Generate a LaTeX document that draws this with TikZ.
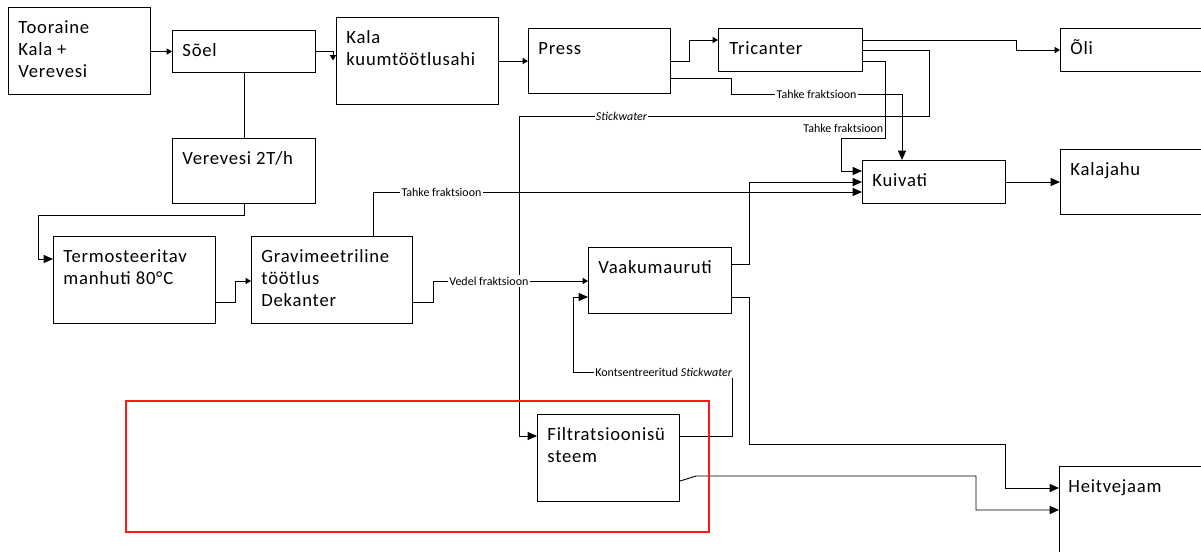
\documentclass[tikz,border=0pt]{standalone}
\usepackage{fontspec}
\setmainfont{Carlito}
\newfontfamily\kirjad[LetterSpace=4]{Carlito}
\usetikzlibrary{arrows.meta,calc}

\begin{document}
\begin{tikzpicture}[
    x=0.75pt, y=-0.75pt,
    line width=0.7pt,
    >={Triangle[length=4pt,width=4.5pt]},
    suur/.style = {-{Triangle[length=7pt,width=6pt]}},
    kast/.style = {
      draw,
      line width = 0.8pt,
      rectangle,
      anchor = north west,
      inner sep = 0pt
    },
    tekst/.style = {
      anchor = base west,
      align = left,
      inner sep = 0pt,
      font = \kirjad\fontsize{14}{16.5}\selectfont
    },
    silt/.style = {
      fill = white,
      inner sep = 1pt,
      font = \fontsize{9}{10}\selectfont
    }
  ]
  \useasboundingbox (0,0) rectangle (1201,551);

  % kastid
  \node[kast, minimum width=106.5pt, minimum height=65.25pt] (toor) at (8,7) {};
  \node[kast, minimum width=107.25pt, minimum height=31.5pt] (soel) at (172,30) {};
  \node[kast, minimum width=121.5pt, minimum height=65.25pt] (kala) at (336,17) {};
  \node[kast, minimum width=106.5pt, minimum height=48.75pt] (press) at (528,28) {};
  \node[kast, minimum width=108pt, minimum height=32.25pt] (tric) at (718,28) {};
  \node[kast, minimum width=115pt, minimum height=32.25pt] (oli) at (1060,28) {};
  \node[kast, minimum width=107.25pt, minimum height=48.75pt] (vere) at (172,138) {};
  \node[kast, minimum width=121.5pt, minimum height=65.25pt] (termo) at (53,236) {};
  \node[kast, minimum width=120.75pt, minimum height=65.25pt] (grav) at (251,236) {};
  \node[kast, minimum width=107.25pt, minimum height=32.25pt] (kuiv) at (862,160) {};
  \node[kast, minimum width=115pt, minimum height=48.75pt] (kjahu) at (1060,149) {};
  \node[kast, minimum width=107.25pt, minimum height=49.5pt] (vaak) at (588,247) {};
  \node[kast, minimum width=106.5pt, minimum height=65.25pt] (filt) at (537,414) {};
  \node[kast, minimum width=115pt, minimum height=75pt] (heit) at (1059,466) {};

  % tekstid (base = viimase rea alus)
  \node[tekst] (toortxt) at ($(toor.north west)+(10,70)$) {Tooraine\\Kala +\\Verevesi};
  \node[tekst] (soeltxt) at ($(soel.north west)+(10,26)$) {Sõel};
  \node[tekst] (kalatxt) at ($(kala.north west)+(10,48)$) {Kala\\kuumtöötlusahi};
  \node[tekst] (presstxt) at ($(press.north west)+(10,26)$) {Press};
  \node[tekst] (trictxt) at ($(tric.north west)+(11,26)$) {Tricanter};
  \node[tekst] (olitxt) at ($(oli.north west)+(10,26)$) {Õli};
  \node[tekst] (veretxt) at ($(vere.north west)+(10,26)$) {Verevesi 2T/h};
  \node[tekst] (termotxt) at ($(termo.north west)+(10,48)$) {Termosteeritav\\manhuti 80°C};
  \node[tekst] (gravtxt) at ($(grav.north west)+(10,70)$) {Gravimeetriline\\töötlus\\Dekanter};
  \node[tekst] (kuivtxt) at ($(kuiv.north west)+(10,26)$) {Kuivati};
  \node[tekst] (kjahutxt) at ($(kjahu.north west)+(10,26)$) {Kalajahu};
  \node[tekst] (vaaktxt) at ($(vaak.north west)+(10,26)$) {Vaakumauruti};
  \node[tekst] (filttxt) at ($(filt.north west)+(10,48)$) {Filtratsioonisü\\steem};
  \node[tekst] (heittxt) at ($(heit.north west)+(9,26)$) {Heitvejaam};

  % ühendused
  \draw[->] (toor.east |- soel.west) -- (soel.west);
  \draw[->] (soel.east) -- ($(kala.west |- soel.east)+(-3,0)$) -- ++(0,9);
  \draw (soel.south) -- (vere.north);
  \draw[suur] (vere.south) -- ++(0,11) -| ($(termo.north west)+(-15,23)$) -- ($(termo.north west)+(0,23)$);
  \draw[->] ($(termo.north east)+(0,66)$) -- ++(19,0) |- ($(grav.north west)+(0,45)$);
  \draw[->] (kala.east) -- (press.west);
  \draw[->] (press.east) -- ++(18,0) |- ($(tric.north west)+(0,12)$);
  \draw[suur] ($(press.north east)+(0,50)$) -- ++(60,0) -- ++(0,16)
    -- node[silt] {Tahke fraktsioon} ($(kuiv.north west)+(40,-66)$) -- ($(kuiv.north west)+(40,0)$);

  \draw[->] ($(tric.north east)+(0,12)$) -- ++(153,0) |- (oli.west);
  \draw[suur] ($(tric.north east)+(0,22)$) -- ++(66,0) -- ++(0,66)
    -| node[silt, pos=0.375] {\textit{Stickwater}} ($(filt.north west)+(-18,22)$) -- ($(filt.north west)+(0,22)$);
  \draw[suur] ($(tric.north east)+(0,33)$) -- ++(22,0)
    -- node[silt, anchor=east, pos=0.88, fill=none] {Tahke fraktsioon} ++(0,77)
    -- ++(-44,0) |- ($(kuiv.north west)+(0,11)$);

  \draw[suur] ($(vaak.north east)+(0,17)$) -- ++(17,0) |- (kuiv.west);
  \draw[suur] ($(grav.north west)+(122,0)$) |- node[silt, pos=0.57] {Tahke fraktsioon} ($(kuiv.north west)+(0,32)$);
  \draw[suur] (kuiv.east) -- (kuiv.east -| kjahu.west);

  \draw[->] ($(grav.north east)+(0,66)$) -- ++(20,0) |- node[silt, pos=0.68] {Vedel fraktsioon} ($(vaak.north west)+(0,34)$);
  \draw[suur] ($(filt.north east)+(0,22)$) -- ++(52,0) -- ++(0,-64)
    -- node[silt, pos=0.43] {Kontsentreeritud \textit{Stickwater}} ++(-159,0) |- ($(vaak.north west)+(0,50)$);

  \draw[suur] ($(vaak.north east)+(0,50)$) -- ++(17,0) -- ++(0,147) -| ($(heit.north west)+(-54,22)$) -- ($(heit.north west)+(0,22)$);
  \draw[suur] ($(filt.north east)+(0,67)$) -- ++(16,-5) -| ($(heit.north west)+(-83,44)$) -- ($(heit.north west)+(0,44)$);

  % punane raam
  \draw[red!90!white, line width=1pt] (126,401) rectangle (709,532);
\end{tikzpicture}
\end{document}
